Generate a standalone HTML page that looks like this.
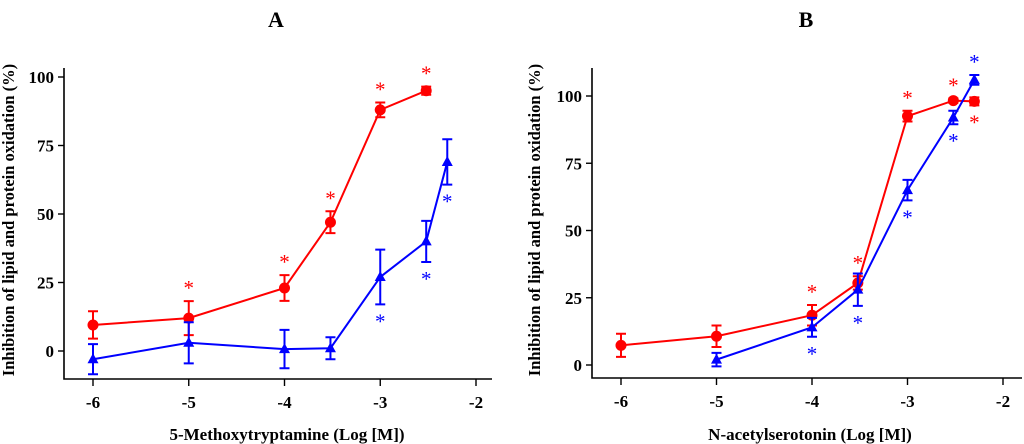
<!DOCTYPE html>
<html><head><meta charset="utf-8"><style>
body{margin:0;background:#fff}
svg{display:block;font-family:"Liberation Serif",serif;font-weight:bold}
</style></head><body>
<svg id="s" width="1024" height="444"></svg>
<script>
const xVals=[-6,-5,-4,-3.52,-3,-2.52,-2.3];
const aRed=[9.5,12,23,47,88,95,null];
const aRedErr=[5,6.2,4.7,4,2.7,1.5,0];
const aBlue=[-3,3,0.7,1,27,40,69];
const aBlueErr=[5.5,7.5,7,4,10,7.5,8.3];
const aRedStar=[0,1,1,1,1,1,0];
const aBlueStar=[0,0,0,0,-1,-1,-1];
const bRed=[7.3,10.7,18.5,30.5,92.5,98.3,98];
const bRedErr=[4.3,4,3.8,2.5,2,0.8,1.5];
const bBlue=[null,2,14,28,65,92,106];
const bBlueErr=[0,2.5,3.5,6,3.8,2.5,1.8];
const bRedStar=[0,0,1,1,1,1,-1];
const bBlueStar=[0,0,-1,-1,-1,-1,1];
const xTicks=[-6,-5,-4,-3,-2];
const yTicks=[0,25,50,75,100];
const NS="http://www.w3.org/2000/svg";
const svg=document.getElementById('s');
function mk(t,a,p){const e=document.createElementNS(NS,t);for(const k in a)e.setAttribute(k,a[k]);(p||svg).appendChild(e);return e;}
function panel(cfg){
 const g=mk('g',{});
 
 
 const X=v=>cfg.x0+(v+6)*(cfg.x1-cfg.x0)/4;
 const Y=v=>cfg.y0-v*(cfg.y0-cfg.y100)/100;
 const t=mk('text',{x:cfg.tx,y:27,'font-size':22,'text-anchor':'middle'},g);t.textContent=cfg.title;
 
 const ax=mk('path',{d:`M${cfg.ax},${cfg.top}V${cfg.bot}H${cfg.right}`,stroke:'#000','stroke-width':1.6,fill:'none'},g);
 
 yTicks.forEach(v=>{mk('line',{x1:cfg.ax-6,x2:cfg.ax,y1:Y(v),y2:Y(v),stroke:'#000','stroke-width':1.4},g);
  const l=mk('text',{x:cfg.ax-10,y:Y(v)+6,'font-size':17,'text-anchor':'end'},g);l.textContent=v;
  });
 xTicks.forEach(v=>{mk('line',{x1:X(v),x2:X(v),y1:cfg.bot,y2:cfg.bot+7,stroke:'#000','stroke-width':1.4},g);
  const l=mk('text',{x:X(v),y:cfg.bot+29,'font-size':17,'text-anchor':'middle'},g);l.textContent=v;
  });
 const xt=mk('text',{x:cfg.xtx,y:440,'font-size':17,'text-anchor':'middle'},g);xt.textContent=cfg.xtitle;
 
 const yx=cfg.ylx,yy=220;
 const yt=mk('text',{x:yx,y:yy,'font-size':16.5,'text-anchor':'middle',transform:`rotate(-90 ${yx} ${yy})`},g);yt.textContent='Inhibition of lipid and protein oxidation (%)';
 
 [[cfg.red,cfg.redErr,cfg.redStar,'#f00','circle','red-series'],[cfg.blue,cfg.blueErr,cfg.blueStar,'#00f','tri','blue-series']].forEach(([vals,err,star,col,shape,nm])=>{
  const sg=mk('g',{},g);
  let d='';vals.forEach((v,i)=>{if(v==null)return;d+=(d?'L':'M')+X(xVals[i])+','+Y(v);});
  mk('path',{d,stroke:col,'stroke-width':2,fill:'none'},sg);
  vals.forEach((v,i)=>{if(v==null)return;const x=X(xVals[i]);
   const e=err[i];const y1=Y(v+e),y2=Y(v-e);
   mk('path',{d:`M${x},${y1}V${y2}M${x-5},${y1}H${x+5}M${x-5},${y2}H${x+5}`,stroke:col,'stroke-width':2,fill:'none'},sg);
   let m;if(shape==='circle')m=mk('circle',{cx:x,cy:Y(v),r:5.5,fill:col},sg);
   else m=mk('path',{d:`M${x},${Y(v)-6}L${x+5.5},${Y(v)+4}L${x-5.5},${Y(v)+4}Z`,fill:col},sg);
   
   if(star[i]){const sy=star[i]>0?Y(v+e)-6:Y(v-e)+24;
    const s=mk('text',{x:x,y:sy,'font-size':21,fill:col,'text-anchor':'middle','font-weight':'normal'},sg);s.textContent='*';
    }
  });
 });
}
panel({name:'panel-a',title:'A',tx:276,x0:93,x1:476,y0:351,y100:77,ax:64,top:68,bot:379,right:492,xtitle:'5-Methoxytryptamine (Log [M])',xtx:287,ylx:14,
 red:aRed,redErr:aRedErr,redStar:aRedStar,blue:aBlue,blueErr:aBlueErr,blueStar:aBlueStar});
panel({name:'panel-b',title:'B',tx:806,x0:621,x1:1003,y0:365,y100:96,ax:592,top:68,bot:378,right:1022,xtitle:'N-acetylserotonin (Log [M])',xtx:810,ylx:540,
 red:bRed,redErr:bRedErr,redStar:bRedStar,blue:bBlue,blueErr:bBlueErr,blueStar:bBlueStar});
</script>
</body></html>
